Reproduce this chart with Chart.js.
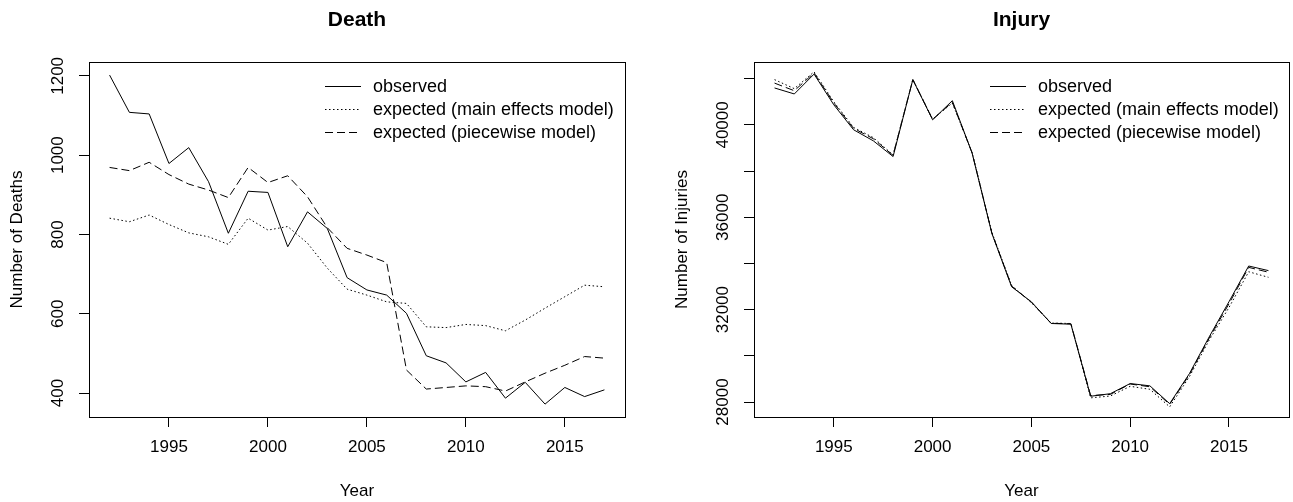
<!DOCTYPE html>
<html>
<head>
<meta charset="utf-8">
<script src="https://cdn.jsdelivr.net/npm/chart.js@4"></script>
<style>
  body { margin: 0; background: #fff; }
  #wrap { position: relative; width: 1293px; height: 502px; }
  canvas { position: absolute; top: 0; }
  #deathChart { left: 0; }
  #injuryChart { left: 646px; }
</style>
</head>
<body>
<div id="wrap">
  <canvas id="deathChart" width="646" height="502"></canvas>
  <canvas id="injuryChart" width="647" height="502"></canvas>
</div>
<script>
const years = [1992, 1993, 1994, 1995, 1996, 1997, 1998, 1999, 2000, 2001, 2002, 2003, 2004,
               2005, 2006, 2007, 2008, 2009, 2010, 2011, 2012, 2013, 2014, 2015, 2016, 2017];
const seriesLabels = ['observed', 'expected (main effects model)', 'expected (piecewise model)'];

// Death panel
const deathObserved  = [1202, 1108, 1104, 979, 1019, 933, 803, 909, 906, 769, 857, 815, 691,
                        660, 647, 601, 494, 476, 428, 452, 387, 427, 372, 414, 391, 408];
const deathMain      = [841, 832, 849, 825, 804, 794, 775, 841, 811, 820, 778, 715, 662,
                        647, 630, 626, 567, 565, 573, 570, 557, 584, 614, 643, 672, 668];
const deathPiecewise = [969, 961, 982, 951, 927, 912, 893, 969, 931, 948, 895, 817, 765,
                        748, 729, 458, 410, 414, 418, 416, 405, 428, 450, 470, 492, 488];
const deathTicks = [400, 600, 800, 1000, 1200];
const deathTickLabels = [400, 600, 800, 1000, 1200];

// Injury panel
const injuryObserved  = [41600, 41340, 42200, 40870, 39790, 39310, 38630, 41960, 40220, 41050, 38780, 35300, 32990,
                         32340, 31400, 31370, 28250, 28360, 28800, 28700, 27930, 29230, 30820, 32340, 33890, 33690];
const injuryMain      = [41960, 41570, 42300, 41000, 39890, 39450, 38700, 41960, 40250, 40950, 38800, 35350, 33050,
                         32300, 31420, 31400, 28180, 28260, 28680, 28550, 27790, 29100, 30680, 32090, 33640, 33400];
const injuryPiecewise = [41810, 41480, 42250, 40950, 39850, 39400, 38680, 41960, 40240, 40980, 38790, 35320, 33020,
                         32320, 31410, 31390, 28280, 28330, 28780, 28660, 27900, 29180, 30760, 32250, 33830, 33620];
const injuryTicks = [28000, 30000, 32000, 34000, 36000, 38000, 40000, 42000];
const injuryTickLabels = [28000, 32000, 36000, 40000]; // R drops the overlapping ones

const yearTicks = [1995, 2000, 2005, 2010, 2015];

const FONT = '"Liberation Sans", Arial, sans-serif';
const lineStyles = [[], [1.5, 2.5], [8, 4]];

// R-style box, rotated y labels and the inset legend
const rBoxPlugin = {
  id: 'rBox',
  afterDraw(chart, args, opts) {
    const { ctx, chartArea: a } = chart;
    const yScale = chart.scales.y;
    ctx.save();
    ctx.strokeStyle = '#000';
    ctx.lineWidth = 1;
    ctx.strokeRect(Math.round(a.left) + 0.5, Math.round(a.top) + 0.5,
                   Math.round(a.right - a.left), Math.round(a.bottom - a.top));

    ctx.font = '17px ' + FONT;
    ctx.fillStyle = '#000';
    ctx.textAlign = 'center';
    ctx.textBaseline = 'middle';
    opts.yLabels.forEach(v => {
      const py = yScale.getPixelForValue(v);
      ctx.save();
      ctx.translate(a.left - 31, py);
      ctx.rotate(-Math.PI / 2);
      ctx.fillText(String(v), 0, 0);
      ctx.restore();
    });

    ctx.font = '18px ' + FONT;
    chart.data.datasets.forEach((ds, i) => {
      const ly = Math.round(a.top + 24 + i * 23);
      ctx.setLineDash(ds.borderDash || []);
      ctx.beginPath();
      ctx.moveTo(a.left + 236, ly + 0.5);
      ctx.lineTo(a.left + 272, ly + 0.5);
      ctx.stroke();
      ctx.setLineDash([]);
      ctx.textAlign = 'left';
      ctx.fillText(ds.label, a.left + 284, ly + 1);
    });
    ctx.restore();
  }
};

function toPoints(values) {
  return years.map((yr, i) => ({ x: yr, y: values[i] }));
}

function makePanel(canvasId, title, yTitle, seriesList, yMin, yMax, yTicks, yLabels, yAxisWidth, yTitlePad, rightPad) {
  const ctx = document.getElementById(canvasId).getContext('2d');
  return new Chart(ctx, {
    type: 'line',
    data: {
      datasets: seriesList.map((vals, i) => ({
        label: seriesLabels[i],
        data: toPoints(vals),
        borderColor: '#000',
        borderWidth: 1,
        borderDash: lineStyles[i],
        pointRadius: 0,
        tension: 0,
        fill: false
      }))
    },
    options: {
      responsive: false,
      animation: false,
      devicePixelRatio: 1,
      layout: { padding: { left: 0, right: rightPad, top: 0, bottom: 0 } },
      plugins: {
        legend: { display: false },
        tooltip: { enabled: false },
        title: {
          display: true,
          text: title,
          fullSize: false,
          color: '#000',
          font: { family: FONT, size: 21, weight: 'bold' },
          padding: { top: 8, bottom: 28.8 }
        },
        rBox: { yLabels: yLabels }
      },
      scales: {
        x: {
          type: 'linear',
          min: 1990.96,
          max: 2018.04,
          afterBuildTicks: axis => { axis.ticks = yearTicks.map(v => ({ value: v })); },
          afterFit: axis => { axis.height = 85; },
          grid: { drawOnChartArea: false, drawTicks: true, tickLength: 10, color: '#000', tickColor: '#000' },
          border: { display: false },
          ticks: { color: '#000', padding: 10, maxRotation: 0, font: { family: FONT, size: 17 },
                   callback: v => String(v) },
          title: { display: true, text: 'Year', color: '#000', font: { family: FONT, size: 17 },
                   padding: { top: 0, bottom: 0 } }
        },
        y: {
          type: 'linear',
          min: yMin,
          max: yMax,
          afterBuildTicks: axis => { axis.ticks = yTicks.map(v => ({ value: v })); },
          afterFit: axis => { axis.width = yAxisWidth; },
          grid: { drawOnChartArea: false, drawTicks: true, tickLength: 10, color: '#000', tickColor: '#000' },
          border: { display: false },
          ticks: { display: false },
          title: { display: true, text: yTitle, color: '#000', font: { family: FONT, size: 17 },
                   padding: { top: yTitlePad, bottom: 0 } }
        }
      }
    },
    plugins: [rBoxPlugin]
  });
}

makePanel('deathChart', 'Death', 'Number of Deaths',
  [deathObserved, deathMain, deathPiecewise], 339.5, 1235, deathTicks, deathTickLabels, 89, 7, 21);
makePanel('injuryChart', 'Injury', 'Number of Injuries',
  [injuryObserved, injuryMain, injuryPiecewise], 27351, 42724, injuryTicks, injuryTickLabels, 108, 26, 4);
</script>
</body>
</html>
